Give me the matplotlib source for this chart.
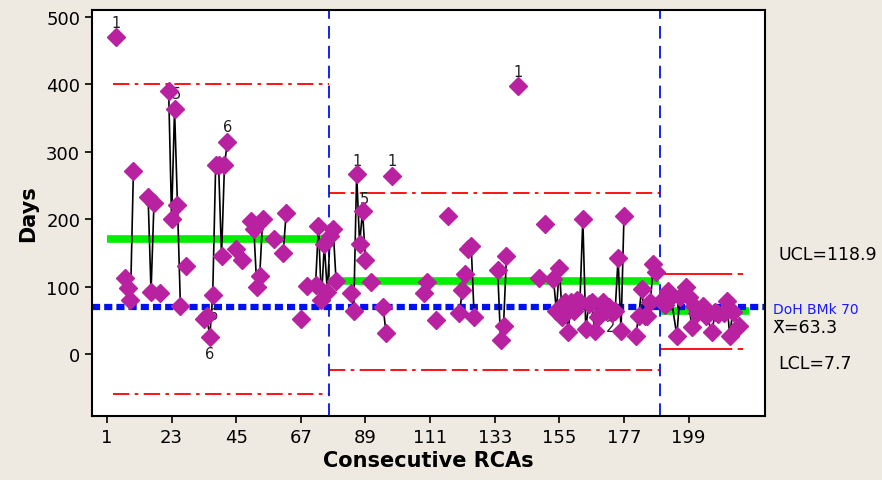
import numpy as np
import matplotlib.pyplot as plt
from matplotlib import font_manager

# RCA number, days, and whether the point is joined to the previous one
rca = [4,
       7, 8, 9, 10,
       15, 16, 17,
       19,
       22, 23, 24, 25, 26,
       28,
       34, 35, 36, 37, 38, 39, 40, 41, 42,
       45, 47,
       50, 51, 52, 53, 54,
       58,
       61, 62,
       67, 69,
       72, 73, 74, 75, 76, 77, 78, 79,
       84, 85, 86, 87, 88, 89,
       91,
       95, 96,
       98,
       109, 110,
       113, 117,
       121, 122, 123,
       124, 125, 126,
       134, 135, 136, 137,
       141, 148, 150,
       153, 154, 155, 156, 157, 158, 159, 160, 161, 162, 163, 164, 165,
       166, 167, 168, 169, 170, 171, 172, 173, 174, 175, 176, 177,
       181, 182, 183, 184, 185, 186, 187, 188,
       190, 191, 192, 193, 195, 196, 198, 199, 200, 201, 202, 203, 204,
       205, 207, 208, 209, 211, 212, 213, 214, 216]
days = [470,
        113, 98, 80, 272,
        233, 92, 224,
        90,
        390, 200, 363, 221, 71,
        130,
        52, 56, 25, 88, 280, 280, 145, 280, 315,
        155, 140,
        197, 185, 100, 116, 200,
        170,
        150, 209,
        52, 101,
        102, 190, 80, 163, 92, 175, 185, 108,
        90, 64, 267, 163, 212, 140,
        107,
        70, 31,
        264,
        90, 107,
        50, 205,
        60, 95, 118,
        155, 160, 55,
        125, 20, 42, 145,
        397, 113, 192,
        111, 64, 128, 55, 77, 33, 77, 64, 80, 77, 200, 37, 74,
        77, 34, 55, 59, 77, 64, 70, 60, 64, 142, 34, 204,
        27, 56, 96, 56, 56, 77, 133, 122,
        80, 72, 93, 85, 27, 85, 99, 85, 40, 71, 60, 65, 71,
        56, 33, 62, 59, 60, 79, 27, 62, 42]
link = [0,
        0, 1, 1, 1,
        0, 1, 1,
        0,
        0, 1, 1, 1, 1,
        0,
        0, 1, 1, 1, 1, 1, 1, 1, 1,
        0, 0,
        0, 1, 1, 1, 1,
        0,
        0, 1,
        0, 0,
        0, 1, 1, 1, 1, 1, 1, 1,
        0, 1, 1, 1, 1, 1,
        0,
        0, 1,
        0,
        0, 1,
        0, 0,
        0, 1, 1,
        0, 1, 1,
        0, 1, 1, 1,
        0, 0, 0,
        0, 1, 1, 1, 1, 1, 1, 1, 1, 1, 1, 1, 1,
        1, 1, 1, 1, 1, 1, 1, 1, 1, 1, 1, 1,
        0, 1, 1, 1, 1, 1, 1, 1,
        0, 1, 1, 1, 1, 1, 1, 1, 1, 1, 1, 1, 1,
        1, 1, 1, 1, 1, 1, 1, 1, 1]

# stages: start, end, limits
stage_start = [3, 76.6, 189.2]
stage_end = [76.6, 189.2, 217.5]
center_start = [1, 76.6, 189.2]
center_end = [75, 188.8, 219.5]
ucl = [400, 238, 118.9]
center = [170, 107.5, 63.3]
lcl = [-60, -24, 7.7]
bench = 70

# test failure labels (x, y, text)
flag_x = [4, 24.5, 42, 36, 37.3, 86, 88.5, 98, 141, 172.5]
flag_y = [492, 386, 337, 1, 58, 287, 230, 287, 419, 40]
flag_txt = ['1', '5', '6', '6', '6', '1', '5', '1', '1', '2']

xticks = [1, 23, 45, 67, 89, 111, 133, 155, 177, 199]
yticks = [0, 100, 200, 300, 400, 500]

# narrow font if there is one, like the Minitab output
installed = {f.name for f in font_manager.fontManager.ttflist}
narrow = 'Liberation Sans Narrow' if 'Liberation Sans Narrow' in installed else 'DejaVu Sans'

bg = '#EEEAE1'
fig = plt.figure(figsize=(8.82, 4.81), dpi=100, facecolor=bg)
ax = fig.add_axes([0.1043, 0.1331, 0.763, 0.844])
ax.set_facecolor('white')

# connecting lines
x = np.array(rca, dtype=float)
y = np.array(days, dtype=float)
lx, ly = [], []
for i in range(len(x)):
    if i > 0 and not link[i]:
        lx.append(np.nan)
        ly.append(np.nan)
    lx.append(x[i])
    ly.append(y[i])
ax.plot(lx, ly, color='black', lw=1.2, zorder=3)

# control limits and centre lines
dash_red = [(0, (9, 3, 2, 3)), (0, (9, 3, 2, 3, 14, 3)), (0, (40, 3))]
for k in range(3):
    ax.plot([stage_start[k], stage_end[k]], [ucl[k], ucl[k]], color='red',
            lw=1.3, linestyle=dash_red[k], zorder=2)
    ax.plot([stage_start[k], stage_end[k]], [lcl[k], lcl[k]], color='red',
            lw=1.3, linestyle=dash_red[k], zorder=2)
    ax.plot([center_start[k], center_end[k]], [center[k], center[k]],
            color='#00EE00', lw=5.5, solid_capstyle='butt', zorder=2)

ax.axhline(bench, color='#0010F0', lw=4.5, linestyle=(0, (1.3, 0.65)), zorder=2.5)
for xb in stage_start[1:]:
    ax.axvline(xb, color='#0010F0', lw=1.3, linestyle=(0, (7, 4)), zorder=2)

for i in range(len(flag_x)):
    ax.text(flag_x[i], flag_y[i], flag_txt[i], ha='center', va='center',
            fontsize=10.5, color='#202020', zorder=2.8)

ax.plot(x, y, linestyle='none', marker='D', markersize=9, color='#B8219F',
        markeredgecolor='#B8219F', zorder=4)

ax.set_xlim(-4.1, 225)
ax.set_ylim(-92, 510)
ax.set_xticks(xticks)
ax.set_yticks(yticks)
ax.tick_params(direction='out', length=5, width=1.2, labelsize=13, colors='black')
for lab in ax.get_xticklabels() + ax.get_yticklabels():
    lab.set_family(narrow)
for s in ax.spines.values():
    s.set_linewidth(1.5)
ax.set_xlabel('Consecutive RCAs', fontsize=15, fontweight='bold', labelpad=3,
              family=narrow)
ax.set_ylabel('Days', fontsize=15, fontweight='bold', labelpad=6, family=narrow)

fig.text(778 / 882, 1 - 255 / 481, 'UCL=118.9', fontsize=12.5, va='center', ha='left')
fig.text(773 / 882, 1 - 310 / 481, 'DoH BMk 70', fontsize=10, va='center', ha='left',
         color='#1a1aff')
fig.text(772 / 882, 1 - 328 / 481, 'X\u0304=63.3', fontsize=12.5, va='center', ha='left')
fig.text(778 / 882, 1 - 364 / 481, 'LCL=7.7', fontsize=12.5, va='center', ha='left')

fig.savefig('out.png', dpi=100, facecolor=bg)
